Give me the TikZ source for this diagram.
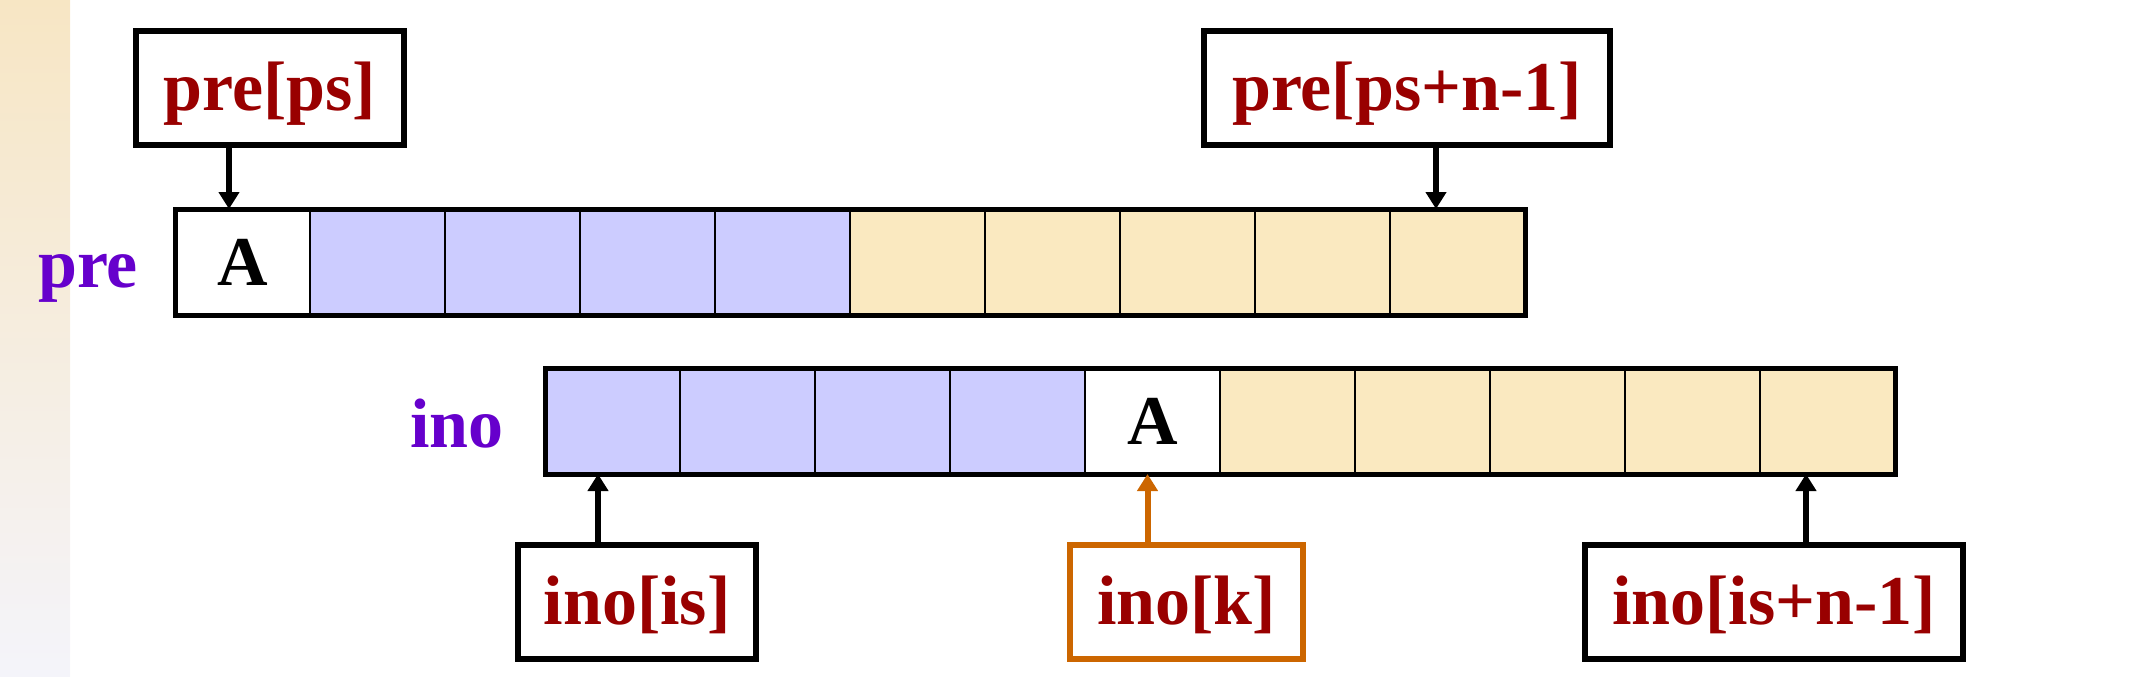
\documentclass[tikz,border=0pt]{standalone}
\usepackage{fontspec}
\setmainfont{Liberation Serif}
\usetikzlibrary{arrows.meta,positioning}
\definecolor{idxred}{RGB}{153,0,0}
\definecolor{arrpurple}{RGB}{102,0,204}
\definecolor{leftblue}{RGB}{204,204,255}
\definecolor{rightyellow}{RGB}{250,233,192}
\definecolor{rootorange}{RGB}{204,102,0}
\definecolor{stripTop}{RGB}{247,230,196}
\definecolor{stripBot}{RGB}{244,244,250}
\begin{document}
\begin{tikzpicture}[
            x=0.5pt, y=-0.5pt,
            every node/.style={font=\fontsize{35}{40}\selectfont\bfseries},
            cell/.style={draw, line width=1.25pt, minimum width=67.5pt, minimum height=53pt, inner sep=0pt, outer sep=0pt},
            frame/.style={line width=2.5pt},
            idx/.style={draw, line width=3pt, text=idxred, text height=26pt, text depth=3.5pt, inner sep=0pt, minimum height=57pt},
            arrname/.style={text=arrpurple, anchor=base},
            ptr/.style={line width=3pt, -{Triangle[width=10pt,length=8.5pt]}}
            ]
            \useasboundingbox (0,0) rectangle (2129,676);
            \shade[top color=stripTop, bottom color=stripBot] (0,0) rectangle (70,676);

            % preorder array
            \foreach \i/\c/\t in {0/white/A,1/leftblue/{},2/leftblue/{},3/leftblue/{},4/leftblue/{},
                                  5/rightyellow/{},6/rightyellow/{},7/rightyellow/{},8/rightyellow/{},9/rightyellow/{}}
                \node[cell, fill=\c] (p\i) at (242.5+135*\i, 262) {\t};
            \draw[frame] (p0.north west) rectangle (p9.south east);
            \node[arrname] (prename) at (88, 287) {pre};

            % inorder array
            \foreach \i/\c/\t in {0/leftblue/{},1/leftblue/{},2/leftblue/{},3/leftblue/{},4/white/A,
                                  5/rightyellow/{},6/rightyellow/{},7/rightyellow/{},8/rightyellow/{},9/rightyellow/{}}
                \node[cell, fill=\c] (i\i) at (612.5+135*\i, 421) {\t};
            \draw[frame] (i0.north west) rectangle (i9.south east);
            \node[arrname] (inoname) at (457, 447) {ino};

            % index boxes
            \node[idx, minimum width=134pt] (lps) at (270, 87.5) {pre[ps]};
            \node[idx, minimum width=203pt] (lpe) at (1407, 87.5) {pre[ps+n-1]};
            \node[idx, minimum width=119pt] (lis) at (637, 602) {ino[is]};
            \node[idx, draw=rootorange, minimum width=116.5pt] (lk) at (1186.5, 602) {ino[k]};
            \node[idx, minimum width=189pt] (lie) at (1774, 602) {ino[is+n-1]};

            \draw[ptr] ([xshift=-20.5pt]lps.south) -- ([xshift=-20.5pt]lps.south |- p0.north);
            \draw[ptr] ([xshift=14.5pt]lpe.south) -- ([xshift=14.5pt]lpe.south |- p9.north);
            \draw[ptr] ([xshift=-19.5pt]lis.north) -- ([xshift=-19.5pt]lis.north |- i0.south);
            \draw[ptr, draw=rootorange, fill=rootorange] ([xshift=-19.5pt]lk.north) -- ([xshift=-19.5pt]lk.north |- i4.south);
            \draw[ptr] ([xshift=16pt]lie.north) -- ([xshift=16pt]lie.north |- i9.south);
\end{tikzpicture}
\end{document}
